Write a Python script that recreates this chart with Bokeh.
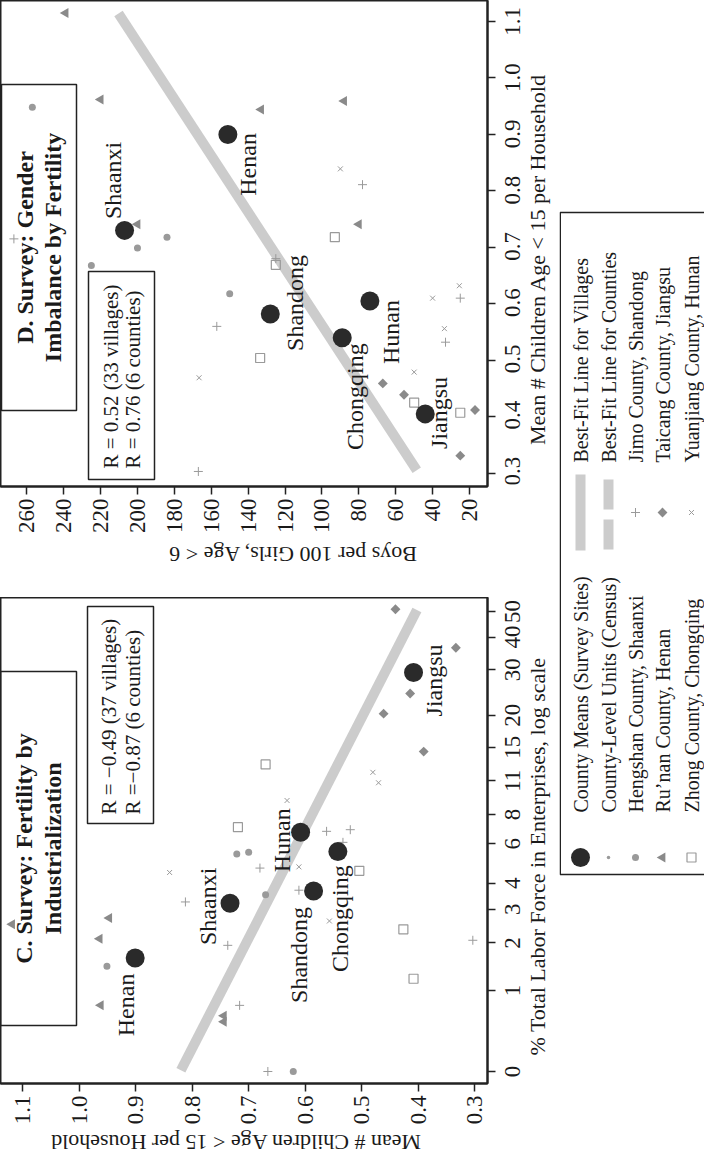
from math import pi
import numpy as np
from bokeh.plotting import figure
from bokeh.models import Range1d, FixedTicker, CustomJSTickFormatter
from bokeh.layouts import row, column
from bokeh.embed import file_html
from bokeh.resources import INLINE
from bokeh.core.properties import value

FONT = "Liberation Serif"
INK = "#1a1a1a"

# ---------------- DATA ----------------
counties = ["Henan", "Shaanxi", "Shandong", "Hunan", "Chongqing", "Jiangsu"]

# Panel D : mean # children (<15) per household vs boys per 100 girls (<6)
d_mean_children = [0.90, 0.73, 0.582, 0.605, 0.54, 0.405]
d_mean_boys = [151, 207, 128, 74, 89, 44]
d_hengshan_children = [0.948, 0.718, 0.699, 0.668, 0.618]
d_hengshan_boys = [257, 184, 200, 225, 150]
d_runan_children = [1.115, 0.962, 0.944, 0.959, 0.741, 0.741]
d_runan_boys = [239, 220, 133, 88, 200, 80]
d_jimo_children = [0.715, 0.811, 0.680, 0.560, 0.610, 0.532, 0.303]
d_jimo_boys = [267, 78, 125, 157, 25, 33, 167]
d_taicang_children = [0.459, 0.439, 0.412, 0.331]
d_taicang_boys = [67, 55.5, 17, 25]
d_yuanjiang_children = [0.839, 0.632, 0.610, 0.556, 0.479, 0.469]
d_yuanjiang_boys = [90, 25.5, 40, 33.6, 50, 166.6]
d_zhong_children = [0.718, 0.669, 0.504, 0.425, 0.407]
d_zhong_boys = [93, 125, 133.5, 50, 25]
d_fit_children = [0.305, 1.114]
d_fit_boys = [48.6, 210.3]

# Panel C : % labour force in enterprises vs mean # children
c_mean_children = [0.901, 0.733, 0.585, 0.608, 0.542, 0.408]
c_mean_labor = [1.64, 3.21, 3.68, 6.73, 5.55, 29.3]
c_hengshan_children = [0.951, 0.721, 0.700, 0.670, 0.621]
c_hengshan_labor = [1.46, 5.42, 5.51, 3.53, 0.0]
c_runan_children = [1.119, 0.947, 0.964, 0.962, 0.744, 0.744]
c_runan_labor = [2.52, 2.71, 2.11, 0.76, 0.61, 0.53]
c_jimo_children = [0.812, 0.737, 0.716, 0.680, 0.666, 0.611, 0.562, 0.533, 0.520, 0.303]
c_jimo_labor = [3.26, 1.94, 0.76, 4.69, 0.0, 3.71, 6.79, 6.09, 6.90, 2.07]
c_taicang_children = [0.440, 0.333, 0.414, 0.461, 0.390]
c_taicang_labor = [51.0, 36.4, 24.3, 20.3, 14.4]
c_yuanjiang_children = [0.840, 0.632, 0.611, 0.557, 0.480, 0.470]
c_yuanjiang_labor = [4.48, 9.14, 4.75, 2.62, 11.9, 10.8]
c_zhong_children = [0.670, 0.719, 0.504, 0.426, 0.408]
c_zhong_labor = [12.8, 7.07, 4.56, 2.37, 1.21]
c_fit_children = [0.820, 0.402]
c_fit_labor = [0.01, 50.7]

children_ticks = [0.3, 0.4, 0.5, 0.6, 0.7, 0.8, 0.9, 1.0, 1.1]
children_tick_labels = ["0.3", "0.4", "0.5", "0.6", "0.7", "0.8", "0.9", "1.0", "1.1"]
boys_ticks = [20, 40, 60, 80, 100, 120, 140, 160, 180, 200, 220, 240, 260]
labor_ticks = [0, 1, 2, 3, 4, 6, 8, 11, 15, 20, 30, 40, 50]
labor_tick_labels = ["0", "1", "2", "3", "4", "6", "8", "11", "15", "20", "30", "40", "50"]

d_title = ["D. Survey: Gender", "Imbalance by Fertility"]
d_r_text = ["R = 0.52 (33 villages)", "R = 0.76 (6 counties)"]
d_xlabel = "Boys per 100 Girls, Age < 6"
d_ylabel = "Mean # Children Age < 15 per Household"
c_title = ["C. Survey: Fertility by", "Industrialization"]
c_r_text = ["R = \u22120.49 (37 villages)", "R  =\u22120.87 (6 counties)"]
c_xlabel = "Mean # Children Age < 15 per Household"
c_ylabel = "% Total Labor Force in Enterprises, log scale"

legend_left = ["County Means (Survey Sites)", "County-Level Units (Census)",
               "Hengshan County, Shaanxi", "Ru\u2019nan County, Henan",
               "Zhong County, Chongqing"]
legend_right = ["Best-Fit Line for Villages", "Best-Fit Line for Counties",
                "Jimo County, Shandong", "Taicang County, Jiangsu",
                "Yuanjiang County, Hunan"]

# ---------------- STYLE / LAYOUT ----------------
FW, FH = 487, 486
RB = 10                    # right border: ticks only
D_BB, C_BB = 48, 44        # bottom borders holding tick labels
COLW = 559                 # width of the panel column
SW = COLW - FW - RB        # strip (tick labels + title) to the right of each panel
D_GAP, C_GAP = 61, 27      # strips holding the bottom axis titles
D_XR, D_YR = (274.26, 10.24), (0.2764, 1.1372)
C_XR, C_YR = (1.1395, 0.277), (-0.1026, 4.0517)
D_LABEL_OFF = [(20, 30), (-12, -50), (25, -11), (21, 31), (13, 59), (14, -1)]
C_LABEL_OFF = [(-9, 47), (-22, 3), (-15, 64), (-19, 8), (2, 67), (20, 8)]

MEAN_C = "#2a2a2a"
GREY = "#9a9a9a"
GREY_D = "#8a8a8a"
FIT_C = "#cccccc"


def fmap(xr, yr):
    kx = (xr[1] - xr[0]) / FW
    ky = (yr[1] - yr[0]) / FH
    fx = lambda px: xr[0] + kx * px
    fy = lambda py: yr[1] - ky * py
    return fx, fy, kx, -ky


def style_axis(ax, ticks, standoff, formatter=None, show_labels=True):
    ax.ticker = FixedTicker(ticks=ticks)
    if formatter is not None:
        ax.formatter = formatter
    ax.minor_tick_line_color = None
    ax.major_tick_in = 0
    ax.major_tick_out = 8
    ax.major_tick_line_color = "#222222"
    ax.major_tick_line_width = 1.5
    ax.axis_line_color = "#222222"
    ax.axis_line_width = 2
    ax.major_label_orientation = pi / 2
    ax.major_label_text_font = FONT
    ax.major_label_text_font_size = "23px" if show_labels else "0px"
    ax.major_label_text_color = INK
    ax.major_label_standoff = standoff


def make_panel(xr, yr, bottom):
    p = figure(frame_width=FW, frame_height=FH, x_range=Range1d(*xr), y_range=Range1d(*yr),
               x_axis_location="below", y_axis_location="right", toolbar_location=None,
               output_backend="svg", min_border_left=0, min_border_top=0,
               min_border_right=RB, min_border_bottom=bottom, title=None)
    p.xgrid.grid_line_color = None
    p.ygrid.grid_line_color = None
    p.outline_line_color = "#222222"
    p.outline_line_width = 2
    p.background_fill_color = "white"
    p.border_fill_color = "white"
    return p


def blank(w, h, y_range=None, bottom=0):
    p = figure(width=w, height=h, x_range=Range1d(0, w),
               y_range=y_range if y_range is not None else Range1d(h, 0),
               toolbar_location=None, output_backend="svg", min_border=0,
               min_border_bottom=bottom, x_axis_location=None, y_axis_location=None, title=None)
    p.outline_line_color = None
    for g in p.grid:
        g.visible = False
    return p


def draw_box(p, fx, fy, x0, x1, y0, y1):
    p.quad(left=[fx(x0)], right=[fx(x1)], top=[fy(y0)], bottom=[fy(y1)],
           fill_color=None, line_color="#222222", line_width=1.5)


def rtext(p, xs, ys, texts, size, align="center", bold=False, angle=pi / 2):
    p.text(x=xs, y=ys, text=texts, angle=angle, text_align=align, text_baseline="middle",
           text_font=value(FONT), text_font_size=size, text_color=INK,
           text_font_style="bold" if bold else "normal")


def markers(p, groups):
    (hx, hy), (rx, ry), (jx, jy), (tx, ty), (yx, yy), (zx, zy) = groups
    p.scatter(hx, hy, marker="circle", size=7, fill_color=GREY, line_color=None)
    p.scatter(rx, ry, marker="triangle", size=10, angle=pi / 2, fill_color=GREY_D, line_color=None)
    p.scatter(jx, jy, marker="cross", size=9, line_color=GREY, line_width=1)
    p.scatter(tx, ty, marker="square", size=7, angle=pi / 4, fill_color=GREY_D, line_color=None)
    p.scatter(yx, yy, marker="x", size=7, line_color=GREY, line_width=1)
    p.scatter(zx, zy, marker="square", size=9, fill_color=None, line_color=GREY, line_width=1.2)


EMPTY = CustomJSTickFormatter(code="return '';")

# ---------------- PANEL D ----------------
pD = make_panel(D_XR, D_YR, D_BB)
fxD, fyD, kxD, kyD = fmap(D_XR, D_YR)
style_axis(pD.xaxis[0], boys_ticks, 4)
style_axis(pD.yaxis[0], children_ticks, 0, EMPTY, show_labels=False)

draw_box(pD, fxD, fyD, 1, 76, 84, 410)
draw_box(pD, fxD, fyD, 88, 154, 271, 479)
rtext(pD, [fxD(24), fxD(52)], [fyD(247), fyD(247)], d_title, "24px", bold=True)
rtext(pD, [fxD(110), fxD(132)], [fyD(468), fyD(468)], d_r_text, "21px", align="left")

pD.line(d_fit_boys, d_fit_children, line_width=10, line_color=FIT_C)
markers(pD, [(d_hengshan_boys, d_hengshan_children), (d_runan_boys, d_runan_children),
             (d_jimo_boys, d_jimo_children), (d_taicang_boys, d_taicang_children),
             (d_yuanjiang_boys, d_yuanjiang_children), (d_zhong_boys, d_zhong_children)])
pD.scatter(d_mean_boys, d_mean_children, marker="circle", size=19, fill_color=MEAN_C, line_color=None)
lxD = [b + dx * kxD for b, (dx, dy) in zip(d_mean_boys, D_LABEL_OFF)]
lyD = [c + dy * kyD for c, (dx, dy) in zip(d_mean_children, D_LABEL_OFF)]
rtext(pD, lxD, lyD, counties, "24px")

# right strip: rotated tick labels (shared y scale) and axis title
tDr = blank(SW, FH + D_BB, y_range=pD.y_range, bottom=D_BB)
rtext(tDr, [14.5] * len(children_ticks), children_ticks, children_tick_labels, "23px")
rtext(tDr, [40], [fyD(260)], [d_ylabel], "22px")
tDb = blank(COLW, D_GAP)
rtext(tDb, [292], [18], [d_xlabel], "22px", angle=pi)

# ---------------- PANEL C ----------------
pC = make_panel(C_XR, C_YR, C_BB)
fxC, fyC, kxC, kyC = fmap(C_XR, C_YR)
L = np.log1p
style_axis(pC.xaxis[0], children_ticks, 4, CustomJSTickFormatter(code="return tick.toFixed(1);"))
style_axis(pC.yaxis[0], list(L(labor_ticks)), 0, EMPTY, show_labels=False)

draw_box(pC, fxC, fyC, 0, 76, 74, 428)
draw_box(pC, fxC, fyC, 87, 153, 9, 226)
rtext(pC, [fxC(23), fxC(52)], [fyC(251), fyC(251)], c_title, "24px", bold=True)
rtext(pC, [fxC(108), fxC(132)], [fyC(217), fyC(217)], c_r_text, "21px", align="left")

pC.line(c_fit_children, L(c_fit_labor), line_width=10, line_color=FIT_C)
markers(pC, [(c_hengshan_children, L(c_hengshan_labor)), (c_runan_children, L(c_runan_labor)),
             (c_jimo_children, L(c_jimo_labor)), (c_taicang_children, L(c_taicang_labor)),
             (c_yuanjiang_children, L(c_yuanjiang_labor)), (c_zhong_children, L(c_zhong_labor))])
pC.scatter(c_mean_children, L(c_mean_labor), marker="circle", size=19, fill_color=MEAN_C, line_color=None)
lxC = [c + dx * kxC for c, (dx, dy) in zip(c_mean_children, C_LABEL_OFF)]
lyC = [v + dy * kyC for v, (dx, dy) in zip(L(c_mean_labor), C_LABEL_OFF)]
rtext(pC, lxC, lyC, counties, "24px")

tCr = blank(SW, FH + C_BB, y_range=pC.y_range, bottom=C_BB)
rtext(tCr, [14.5] * len(labor_ticks), list(L(labor_ticks)), labor_tick_labels, "23px")
rtext(tCr, [40], [fyC(259)], [c_ylabel], "22px")
tCb = blank(COLW, C_GAP)
rtext(tCb, [235], [15], [c_xlabel], "22px", angle=pi)

# ---------------- LEGEND ----------------
LH = FH + D_BB + D_GAP + FH + C_BB + C_GAP
pL = blank(145, LH)
pL.quad(left=[0.75], right=[400], top=[212], bottom=[874], fill_color=None,
        line_color="#222222", line_width=1.5)
rows_x = [21, 49, 76, 103, 132]
pL.scatter([rows_x[0]], [857], marker="circle", size=19, fill_color=MEAN_C, line_color=None)
pL.scatter([rows_x[1]], [857], marker="circle", size=3.5, fill_color=GREY, line_color=None)
pL.scatter([rows_x[2]], [857], marker="circle", size=7, fill_color=GREY, line_color=None)
pL.scatter([rows_x[3]], [857], marker="triangle", size=10, angle=pi / 2, fill_color=GREY_D, line_color=None)
pL.scatter([rows_x[4]], [857], marker="square", size=9, fill_color=None, line_color=GREY, line_width=1.2)
rtext(pL, rows_x, [812] * 5, legend_left, "20px", align="left")
pL.line([rows_x[0], rows_x[0]], [474, 550], line_width=10, line_color=FIT_C)
pL.line([rows_x[1], rows_x[1]], [479, 550], line_width=10, line_color=FIT_C, line_dash="30 10")
pL.scatter([rows_x[2]], [512], marker="cross", size=9, line_color=GREY, line_width=1)
pL.scatter([rows_x[3]], [512], marker="square", size=7, angle=pi / 4, fill_color=GREY_D, line_color=None)
pL.scatter([rows_x[4]], [512], marker="x", size=7, line_color=GREY, line_width=1)
rtext(pL, rows_x, [462] * 5, legend_right, "20px", align="left")

panels = column(row(pD, tDr, spacing=0), tDb, row(pC, tCr, spacing=0), tCb, spacing=0)
layout = row(panels, pL, spacing=0)
open("out.html", "w").write(file_html(layout, INLINE))
